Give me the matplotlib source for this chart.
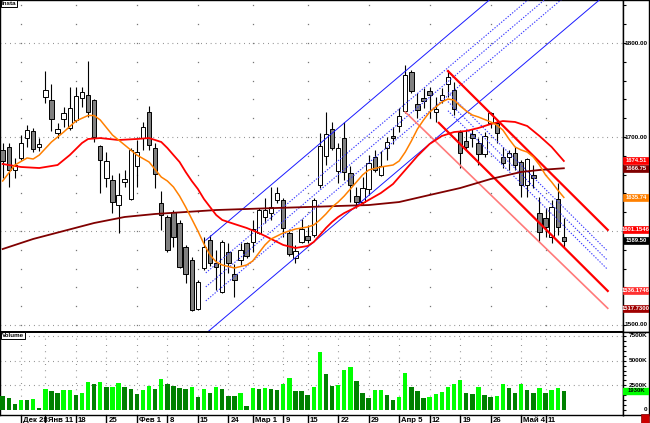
import matplotlib
matplotlib.use("Agg")
import matplotlib.pyplot as plt
import matplotlib.transforms as mtransforms
from matplotlib.patches import Rectangle
import numpy as np

plt.rcParams["font.family"] = ["Liberation Sans", "DejaVu Sans"]

# daily candles, x = trading day number
opens = [1686.2, 1689.4, 1664.9, 1677.7, 1698.9, 1706.4, 1689.4, 1742.6, 1739.4, 1704.3,
         1719.2, 1709.6, 1718.1, 1741.5, 1744.7, 1739.4, 1690.4, 1656.4, 1654.2, 1627.6,
         1652.1, 1634.0, 1669.1, 1698.9, 1726.6, 1688.3, 1629.8, 1614.9, 1620.2, 1608.5,
         1583.0, 1569.1, 1517.0, 1560.6, 1590.4, 1565.9, 1535.1, 1577.6, 1554.2, 1569.1,
         1587.2, 1588.3, 1597.9, 1614.9, 1619.1, 1633.0, 1633.0, 1597.9, 1571.3, 1588.3,
         1594.7, 1595.7, 1648.9, 1679.8, 1708.5, 1663.8, 1698.9, 1661.7, 1637.2, 1630.8,
         1644.7, 1678.7, 1659.6, 1688.3, 1701.1, 1711.7, 1727.7, 1769.2, 1735.1, 1741.5,
         1748.9, 1726.6, 1739.4, 1756.4, 1750.0, 1705.3, 1695.7, 1703.2, 1693.6, 1681.9,
         1714.9, 1714.9, 1678.7, 1678.7, 1683.0, 1673.4, 1648.9, 1659.6, 1619.1, 1613.8,
         1593.6, 1634.0, 1593.6]
highs = [1693.6, 1693.6, 1677.7, 1702.1, 1712.8, 1709.6, 1698.9, 1770.2, 1756.4, 1714.9,
         1731.9, 1753.2, 1753.2, 1753.2, 1780.9, 1740.4, 1691.5, 1684.0, 1659.6, 1661.7,
         1664.9, 1688.3, 1696.8, 1716.0, 1733.0, 1693.6, 1642.5, 1617.0, 1622.3, 1611.7,
         1585.1, 1572.3, 1547.8, 1593.6, 1595.7, 1579.8, 1590.4, 1587.2, 1564.9, 1587.2,
         1588.3, 1611.7, 1624.5, 1635.1, 1646.8, 1646.8, 1635.1, 1600.0, 1585.1, 1612.8,
         1606.4, 1635.1, 1704.3, 1726.6, 1716.0, 1693.6, 1716.0, 1669.1, 1646.8, 1657.4,
         1680.8, 1686.2, 1685.1, 1700.0, 1710.6, 1730.9, 1776.6, 1771.3, 1746.8, 1752.1,
         1753.2, 1742.6, 1752.1, 1771.3, 1758.5, 1707.4, 1707.4, 1708.5, 1698.9, 1705.3,
         1726.6, 1718.1, 1689.4, 1686.2, 1689.4, 1675.5, 1677.7, 1670.2, 1636.2, 1624.5,
         1633.0, 1651.1, 1613.8]
lows = [1656.4, 1646.8, 1656.4, 1675.5, 1689.4, 1684.0, 1685.1, 1736.2, 1706.4, 1698.9,
        1710.6, 1707.4, 1716.0, 1731.9, 1721.3, 1694.7, 1640.4, 1646.8, 1619.1, 1597.9,
        1646.8, 1633.0, 1646.8, 1686.2, 1686.2, 1645.7, 1601.0, 1577.6, 1583.0, 1560.6,
        1544.7, 1514.9, 1515.9, 1558.5, 1562.7, 1537.2, 1534.0, 1555.3, 1529.8, 1563.8,
        1571.3, 1577.6, 1596.8, 1608.5, 1611.7, 1629.8, 1593.6, 1573.4, 1565.9, 1587.2,
        1587.2, 1593.6, 1645.7, 1670.2, 1686.2, 1651.1, 1654.2, 1630.8, 1624.5, 1628.7,
        1638.3, 1662.8, 1658.5, 1675.5, 1692.6, 1705.3, 1725.5, 1746.8, 1720.2, 1730.9,
        1720.2, 1716.0, 1736.2, 1742.6, 1723.4, 1667.0, 1686.2, 1689.4, 1670.2, 1678.7,
        1709.6, 1693.6, 1667.0, 1664.9, 1664.9, 1636.2, 1636.2, 1645.7, 1588.3, 1593.6,
        1587.2, 1595.7, 1583.0]
closes = [1674.5, 1664.9, 1670.2, 1693.6, 1707.4, 1687.2, 1692.6, 1750.0, 1719.2, 1708.5,
          1725.5, 1730.9, 1743.6, 1747.9, 1726.6, 1700.0, 1675.5, 1674.5, 1630.8, 1638.3,
          1655.3, 1686.2, 1684.0, 1710.6, 1691.5, 1660.6, 1617.0, 1579.8, 1593.6, 1561.7,
          1554.2, 1515.9, 1545.7, 1583.0, 1565.9, 1561.7, 1588.3, 1565.9, 1547.8, 1579.8,
          1573.4, 1602.1, 1622.3, 1622.3, 1625.5, 1640.4, 1603.2, 1575.5, 1578.7, 1602.1,
          1590.4, 1633.0, 1690.4, 1703.2, 1688.3, 1688.3, 1662.8, 1648.9, 1630.8, 1645.7,
          1672.3, 1664.9, 1669.1, 1694.7, 1698.9, 1722.3, 1766.0, 1748.9, 1728.7, 1738.3,
          1744.7, 1729.8, 1744.7, 1763.8, 1729.8, 1683.0, 1689.4, 1698.9, 1681.9, 1701.1,
          1725.5, 1704.3, 1672.3, 1683.0, 1670.2, 1648.9, 1676.6, 1656.4, 1598.9, 1604.2,
          1625.5, 1604.2, 1589.5]

# volume in thousands, 1 = light green bar, 0 = dark green bar
volume_k = [1420, 1250, 610, 1010, 980, 1080, 170, 2130, 1930, 1760,
            2030, 2030, 1490, 1720, 2870, 2670, 2870, 2330, 2330, 2770,
            2330, 2130, 1620, 2030, 2400, 2130, 3110, 2640, 2430, 2200,
            2130, 2330, 1280, 2130, 1720, 2330, 2130, 1420, 1420, 1720,
            440, 2230, 2130, 2230, 2130, 2030, 2640, 3240, 1960, 1930,
            1490, 2330, 5850, 3650, 2430, 2530, 4050, 4360, 2940, 1720,
            1180, 2030, 2030, 1520, 1010, 1320, 3720, 2330, 1930, 1220,
            1320, 1620, 1820, 2330, 2640, 3040, 1720, 1620, 2330, 1520,
            1320, 1420, 2640, 2230, 1720, 2640, 2030, 1720, 2230, 1720,
            2030, 2230, 1930]
volume_light = [0, 0, 0, 1, 0, 1, 0, 1, 0, 0, 1, 1, 0, 1, 1, 0, 1, 0, 1, 1,
                0, 0, 0, 1, 1, 0, 1, 0, 0, 0, 0, 1, 0, 1, 0, 1, 0, 0, 0, 1,
                0, 1, 0, 1, 0, 0, 1, 1, 0, 0, 0, 1, 1, 0, 0, 1, 1, 1, 0, 0,
                0, 1, 1, 0, 0, 1, 1, 0, 0, 0, 1, 1, 1, 1, 1, 1, 0, 0, 1, 0,
                0, 1, 1, 0, 0, 1, 0, 0, 1, 0, 1, 1, 0]

# moving averages
fast_x = [0, 2, 4, 5, 6, 8, 10, 12, 14, 15, 16, 18, 20, 22, 24, 26, 27, 28, 29, 30,
          31, 32, 33, 34, 35, 36, 38, 40, 41, 42, 43, 44, 46, 48, 50, 51, 52, 53, 54, 55,
          56, 57, 58, 59, 60, 62, 64, 65, 66, 67, 68, 69, 70, 71, 72, 73, 74, 75, 76, 77,
          78, 80, 81, 82, 83, 84, 85, 86, 87, 88, 89, 90, 91, 92]
fast_ma = [1653.2, 1670.2, 1677.7, 1676.6, 1680.8, 1694.7, 1705.3, 1717.0, 1722.9, 1722.9,
           1718.1, 1702.1, 1691.5, 1680.8, 1673.4, 1657.4, 1653.2, 1646.8, 1637.2, 1625.5,
           1612.8, 1600.0, 1586.2, 1574.4, 1567.0, 1563.8, 1560.6, 1563.8, 1568.1, 1576.6,
           1585.1, 1591.5, 1597.9, 1602.1, 1604.2, 1606.4, 1611.7, 1618.1, 1625.5, 1630.8,
           1637.2, 1644.7, 1652.1, 1659.6, 1664.9, 1668.1, 1670.2, 1674.5, 1684.0, 1695.7,
           1708.5, 1718.1, 1726.6, 1731.9, 1737.2, 1740.4, 1739.4, 1733.0, 1727.7, 1723.4,
           1721.3, 1716.0, 1712.8, 1707.4, 1697.9, 1689.4, 1686.2, 1684.0, 1678.7, 1670.2,
           1659.6, 1652.1, 1643.6, 1635.74]
mid_x = [0, 3, 6, 9, 10, 11, 12, 13, 14, 16, 19, 22, 24, 26, 27, 28, 29, 30, 31, 32,
         33, 34, 35, 36, 38, 40, 42, 44, 46, 48, 50, 51, 52, 53, 54, 55, 56, 58, 60, 62,
         64, 66, 68, 70, 72, 74, 76, 78, 80, 82, 84, 86, 88, 90, 92]
mid_ma = [1671.3, 1668.1, 1667.0, 1670.2, 1675.5, 1680.8, 1687.2, 1693.6, 1697.9, 1698.9,
          1696.8, 1697.9, 1698.9, 1694.7, 1688.3, 1680.8, 1673.4, 1662.8, 1653.2, 1644.7,
          1634.0, 1625.5, 1617.0, 1611.7, 1607.4, 1603.2, 1597.9, 1591.5, 1585.1, 1581.9,
          1584.0, 1588.3, 1595.7, 1603.2, 1609.6, 1614.9, 1619.1, 1625.5, 1633.0, 1640.4,
          1650.0, 1664.9, 1679.8, 1692.6, 1701.1, 1705.3, 1706.4, 1709.6, 1713.8, 1717.0,
          1716.0, 1711.7, 1701.1, 1689.4, 1674.51]
slow_x = [0, 5, 10, 15, 20, 25, 30, 35, 40, 45, 50, 55, 60, 65, 70, 75, 80, 85, 88, 92]
slow_ma = [1580.8, 1591.5, 1600.0, 1608.5, 1614.9, 1618.1, 1620.2, 1622.3, 1623.4, 1624.5,
           1625.5, 1626.6, 1627.6, 1630.8, 1638.3, 1645.7, 1655.3, 1662.8, 1664.9, 1666.75]

# rising channel: centre line, half width, inner line offset
up_x = [33.3, 100.0]
up_mid = [1540.5, 1907.4]
up_half = 49.6
up_inner = 14.9
# falling channel
dn_upper_x = [73.0, 99.2]
dn_upper = [1770.2, 1601.1546]
dn_lower_x = [71.5, 99.2]
dn_lower = [1715.1, 1536.1746]
dn_mid_x = [73.0, 99.2]
dn_mid = [1737.7, 1568.66]
dn_inner = 9.75
pink_x = [66.0, 99.2]
pink_y = [1726.6, 1517.73]

tick_pos = [3, 7, 12, 17, 22, 27, 32, 37, 41, 46, 50, 55, 60, 65, 70, 75, 80, 85, 89]
tick_lbl = ["Дек 28", "Янв 11", "18", "25", "Фев 1", "8", "15", "24", "Мар 1", "9",
            "15", "22", "29", "Апр 5", "12", "19", "26", "Май 4", "11"]
main_grid_x = [3, 12, 22, 32, 41, 50, 60, 70, 80, 89]
price_labels = [1500, 1700, 1800]  # 1600 sits under the channel flag

W, H = 650, 423
fig = plt.figure(figsize=(W / 100, H / 100), dpi=100)


def fx(px):
    return px / W


def fy(py):
    return 1 - py / H


ax = fig.add_axes([0, fy(332), fx(623), fy(0) - fy(332)])
axv = fig.add_axes([0, fy(415), fx(623), fy(332) - fy(415)], sharex=ax)
axr = fig.add_axes([fx(623), fy(332), fx(649) - fx(623), fy(0) - fy(332)])
axvr = fig.add_axes([fx(623), fy(415), fx(649) - fx(623), fy(332) - fy(415)])

price_lim = (1492.5, 1845.8)
vol_lim = (-507, 7905)
ax.set_xlim(-0.44, 101.7)
ax.set_ylim(*price_lim)
axv.set_ylim(*vol_lim)
axr.set_ylim(*price_lim)
axvr.set_ylim(*vol_lim)
for a in (axr, axvr):
    a.set_xlim(0, 1)
    a.set_xticks([])

grid_col = "#767676"
levels = np.arange(1500, 1841, 20)
for gx in main_grid_x:
    ax.plot([gx] * len(levels), levels, ls="none", marker="s", ms=0.9, mew=0,
            color=grid_col, zorder=1)
for lvl in (1500, 1600, 1700, 1800):
    ax.axhline(lvl, color=grid_col, lw=0.8, ls=(0, (0.7, 3.6)), zorder=1)
for t in tick_pos:
    axv.axvline(t, color=grid_col, lw=0.8, ls=(0, (0.7, 5)), zorder=1)
for lvl in (2500, 5000, 7500):
    axv.axhline(lvl, color=grid_col, lw=0.8, ls=(0, (0.7, 3.6)), zorder=1)

# candles
idx = np.arange(len(closes))
o, h, l, c = (np.array(v) for v in (opens, highs, lows, closes))
rising = c >= o
ax.vlines(idx, l, h, color="black", lw=0.8, zorder=3)
ax.bar(idx, np.maximum(np.abs(c - o), 0.8), bottom=np.minimum(o, c), width=0.72,
       color=np.where(rising, "white", "#808080"), edgecolor="black", linewidth=0.7,
       zorder=4)

# channels
ux = np.array(up_x)
um = np.array(up_mid)
for off in (up_half, -up_half):
    ax.plot(ux, um + off, color="#1a1aff", lw=0.7, zorder=5)
for off in (up_inner, 0, -up_inner):
    ax.plot(ux, um + off, color="#3a3aff", lw=0.8, ls=(0, (1.2, 1.4)), zorder=5)
ax.plot(pink_x, pink_y, color="#ff7a7a", lw=1.2, zorder=5)
ax.plot(dn_upper_x, dn_upper, color="#ff0000", lw=1.6, zorder=6)
ax.plot(dn_lower_x, dn_lower, color="#ff0000", lw=1.6, zorder=6)
dm = np.array(dn_mid)
for off in (dn_inner, 0, -dn_inner):
    ax.plot(dn_mid_x, dm + off, color="#3a3aff", lw=0.8, ls=(0, (1.2, 1.4)), zorder=5)

# moving averages
ax.plot(slow_x, slow_ma, color="#800000", lw=1.3, zorder=6)
ax.plot(mid_x, mid_ma, color="#ff0000", lw=1.3, zorder=6)
ax.plot(fast_x, fast_ma, color="#ff8000", lw=1.1, zorder=7)

# volume
axv.bar(idx, volume_k, width=0.72,
        color=["#00ff00" if f else "#008000" for f in volume_light], zorder=3)

# frames and ticks
for a in (ax, axv, axr, axvr):
    for s in a.spines.values():
        s.set_color("black")
        s.set_linewidth(1.0)
ax.spines["bottom"].set_linewidth(1.4)
axv.spines["top"].set_linewidth(1.4)
ax.tick_params(axis="both", left=False, bottom=False, labelleft=False, labelbottom=False)
axv.tick_params(axis="y", left=False, labelleft=False)
axv.set_xticks(tick_pos)
axv.tick_params(axis="x", direction="out", length=6, width=1, labelbottom=False)
tr = mtransforms.blended_transform_factory(axv.transData, axv.transAxes)
for t, s in zip(tick_pos, tick_lbl):
    axv.text(t + 0.35, -0.02, s, transform=tr, ha="left", va="top", fontsize=5.6,
             fontweight="bold")

axr.set_yticks(levels)
axr.tick_params(axis="y", direction="in", length=2.5, width=0.8, labelleft=False)
for lvl in price_labels:
    axr.text(0.94, lvl, f"{lvl:.2f}", ha="right", va="center", fontsize=4.6,
             fontweight="bold")
axvr.set_yticks(np.arange(0, 7501, 500))
axvr.tick_params(axis="y", direction="in", length=2.5, width=0.8, labelleft=False)
for v in (0, 2500, 5000, 7500):
    axvr.text(0.94, v, "0" if v == 0 else f"{v}K", ha="right", va="center",
              fontsize=4.6, fontweight="bold")

# value flags on the price scale
flags = [
    (mid_ma[-1], f"{mid_ma[-1]:.2f}", "#ff0000"),
    (slow_ma[-1], f"{slow_ma[-1]:.2f}", "#800000"),
    (fast_ma[-1], f"{fast_ma[-1]:.2f}", "#ff8000"),
    (dn_upper[-1], f"{dn_upper[-1]:.4f}", "#ff0000"),
    (closes[-1], f"{closes[-1]:.2f}", "black"),
    (dn_lower[-1], f"{dn_lower[-1]:.4f}", "#ff3030"),
    (pink_y[-1], f"{pink_y[-1]:.4f}", "#a00000"),
]
bh = 7.4
for val, txt, bg in flags:
    axr.add_patch(Rectangle((0, val - bh / 2), 1, bh, fc=bg, ec=bg, lw=0.5, zorder=5))
    axr.text(0.5, val, txt, ha="center", va="center", color="white", fontsize=4.2,
             fontweight="bold", zorder=6)
vbh = 650
axvr.add_patch(Rectangle((0, volume_k[-1] - vbh / 2), 1, vbh, fc="#00ff00", ec="#00ff00",
                         zorder=5))
axvr.text(0.5, volume_k[-1], f"{volume_k[-1]}K", ha="center", va="center",
          color="black", fontsize=4.2, fontweight="bold", zorder=6)

ax.text(0.003, 0.997, "Insta", transform=ax.transAxes, ha="left", va="top",
        fontsize=4.5, fontweight="bold", zorder=8,
        bbox=dict(boxstyle="square,pad=0.15", fc="white", ec="black", lw=0.7))
axv.text(0.003, 0.985, "Volume", transform=axv.transAxes, ha="left", va="top",
         fontsize=4.5, fontweight="bold", zorder=8,
         bbox=dict(boxstyle="square,pad=0.15", fc="white", ec="black", lw=0.7))
fig.add_artist(Rectangle((fx(641), 0), fx(8), 9 / H, transform=fig.transFigure,
                         fc="#cc0000", ec="#800000", lw=0.5))

fig.savefig("out.png", dpi=100)
